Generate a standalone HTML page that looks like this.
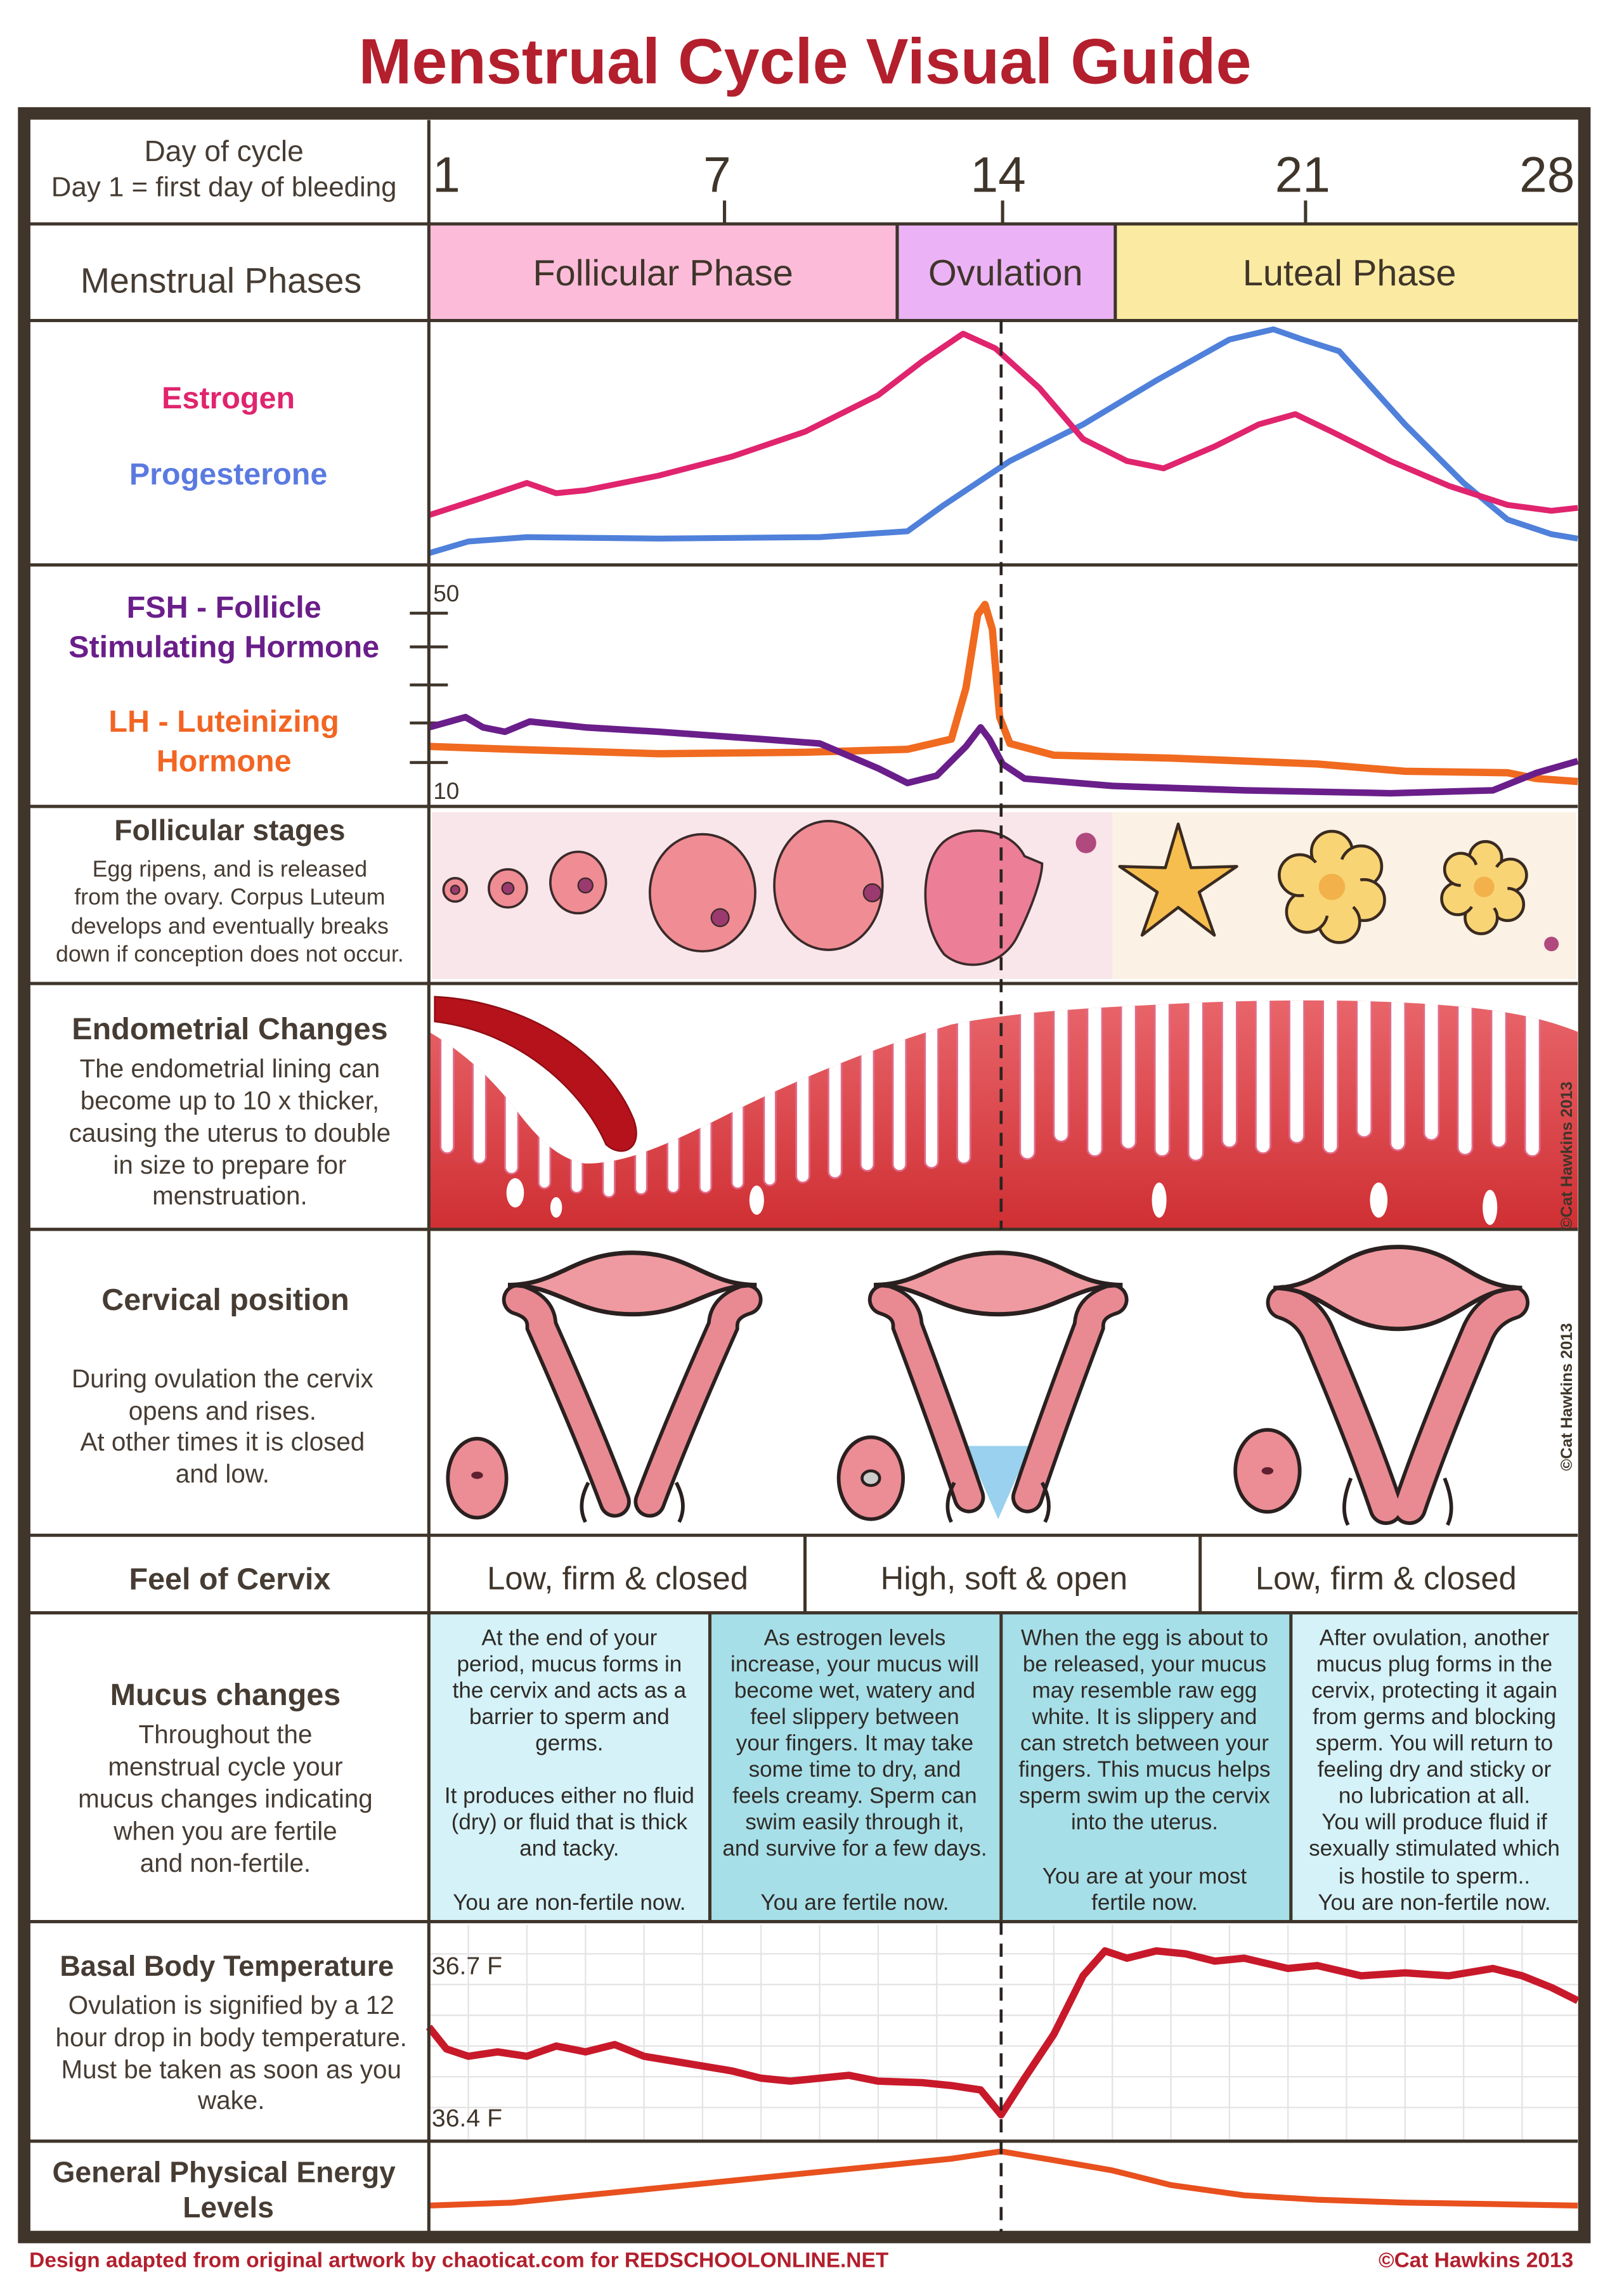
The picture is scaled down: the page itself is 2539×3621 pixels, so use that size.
<!DOCTYPE html>
<html><head><meta charset="utf-8">
<style>
html,body{margin:0;padding:0;background:#fff;}
svg{display:block;}
text{font-family:"Liberation Sans",sans-serif;}
</style></head>
<body>
<svg width="2539" height="3621" viewBox="0 0 1100 1568.8" xmlns="http://www.w3.org/2000/svg">
<defs>
<linearGradient id="endo" x1="0" y1="0" x2="0" y2="1">
<stop offset="0" stop-color="#e8656a"/><stop offset="1" stop-color="#cf2f33"/>
</linearGradient>
<clipPath id="endoClip">
<path d="M293,705 C310,715 330,730 350,755 C365,775 380,792 400,795 C430,795 460,780 500,760 C540,740 590,718 650,700 C700,690 760,688 820,685 C900,682 960,684 1000,688 C1040,692 1060,698 1078,705 L1078,840 L293,840 Z"/>
</clipPath>
</defs>
<rect width="1100" height="1568.8" fill="#fff"/>
<!-- Title -->
<text x="550" y="57" text-anchor="middle" font-size="44" font-weight="bold" fill="#b31f2d" textLength="610" lengthAdjust="spacingAndGlyphs">Menstrual Cycle Visual Guide</text>

<!-- frame -->
<rect x="16.5" y="77.5" width="1066" height="1451" fill="none" stroke="#3f352a" stroke-width="8.5"/>

<!-- phase fills -->
<rect x="293" y="153" width="320" height="66" fill="#fcbcd9"/>
<rect x="613" y="153" width="149" height="66" fill="#ebb3f6"/>
<rect x="762" y="153" width="316" height="66" fill="#fbeba2"/>

<!-- mucus fills -->
<rect x="293" y="1102" width="192" height="211" fill="#d4f2f8"/>
<rect x="485" y="1102" width="199" height="211" fill="#a7dfe8"/>
<rect x="684" y="1102" width="198" height="211" fill="#a7dfe8"/>
<rect x="882" y="1102" width="196" height="211" fill="#d4f2f8"/>

<!-- Follicular band -->
<rect x="295" y="555" width="782" height="114" fill="#f8e6ea"/>
<rect x="760" y="555" width="317" height="114" fill="#fbf1e4"/>

<!-- BBT grid -->
<g stroke="#e4e4e4" stroke-width="1">
<line x1="293" y1="1335" x2="1078" y2="1335"/><line x1="293" y1="1356" x2="1078" y2="1356"/><line x1="293" y1="1377" x2="1078" y2="1377"/><line x1="293" y1="1398" x2="1078" y2="1398"/><line x1="293" y1="1419" x2="1078" y2="1419"/><line x1="293" y1="1440" x2="1078" y2="1440"/>
<line x1="320" y1="1315" x2="320" y2="1462"/><line x1="360" y1="1315" x2="360" y2="1462"/><line x1="400" y1="1315" x2="400" y2="1462"/><line x1="440" y1="1315" x2="440" y2="1462"/><line x1="480" y1="1315" x2="480" y2="1462"/><line x1="520" y1="1315" x2="520" y2="1462"/><line x1="560" y1="1315" x2="560" y2="1462"/><line x1="600" y1="1315" x2="600" y2="1462"/><line x1="640" y1="1315" x2="640" y2="1462"/><line x1="720" y1="1315" x2="720" y2="1462"/><line x1="760" y1="1315" x2="760" y2="1462"/><line x1="800" y1="1315" x2="800" y2="1462"/><line x1="840" y1="1315" x2="840" y2="1462"/><line x1="880" y1="1315" x2="880" y2="1462"/><line x1="920" y1="1315" x2="920" y2="1462"/><line x1="960" y1="1315" x2="960" y2="1462"/><line x1="1000" y1="1315" x2="1000" y2="1462"/><line x1="1040" y1="1315" x2="1040" y2="1462"/>
</g>

<!-- Endometrial -->
<path d="M293,705 C310,715 330,730 350,755 C365,775 380,792 400,795 C430,795 460,780 500,760 C540,740 590,718 650,700 C700,690 760,688 820,685 C900,682 960,684 1000,688 C1040,692 1060,698 1078,705 L1078,840 L293,840 Z" fill="url(#endo)"/>
<g fill="#fff" stroke="#e06b8a" stroke-width="1.2" clip-path="url(#endoClip)">
<rect x="301" y="690" width="9" height="98" rx="4.5"/>
<rect x="323" y="700" width="9" height="95" rx="4.5"/>
<rect x="345" y="720" width="9" height="82" rx="4.5"/>
<rect x="368" y="750" width="8" height="62" rx="4"/>
<rect x="390" y="770" width="8" height="45" rx="4"/>
<rect x="412" y="770" width="8" height="48" rx="4"/>
<rect x="434" y="760" width="8" height="56" rx="4"/>
<rect x="456" y="750" width="8" height="65" rx="4"/>
<rect x="478" y="740" width="8" height="75" rx="4"/>
<rect x="500" y="730" width="8" height="82" rx="4"/>
<rect x="522" y="720" width="8" height="90" rx="4"/>
<rect x="544" y="710" width="9" height="98" rx="4.5"/>
<rect x="566" y="700" width="9" height="105" rx="4.5"/>
<rect x="588" y="690" width="9" height="110" rx="4.5"/>
<rect x="610" y="685" width="9" height="115" rx="4.5"/>
<rect x="632" y="680" width="9" height="118" rx="4.5"/>
<rect x="654" y="675" width="9" height="120" rx="4.5"/>
<rect x="697" y="670" width="10" height="122" rx="5"/>
<rect x="720" y="670" width="10" height="110" rx="5"/>
<rect x="743" y="670" width="10" height="120" rx="5"/>
<rect x="766" y="670" width="10" height="115" rx="5"/>
<rect x="789" y="670" width="10" height="120" rx="5"/>
<rect x="812" y="670" width="10" height="123" rx="5"/>
<rect x="835" y="670" width="10" height="114" rx="5"/>
<rect x="858" y="670" width="10" height="118" rx="5"/>
<rect x="881" y="670" width="10" height="111" rx="5"/>
<rect x="904" y="670" width="10" height="118" rx="5"/>
<rect x="927" y="670" width="10" height="107" rx="5"/>
<rect x="950" y="670" width="10" height="116" rx="5"/>
<rect x="973" y="670" width="10" height="109" rx="5"/>
<rect x="996" y="670" width="10" height="119" rx="5"/>
<rect x="1019" y="670" width="10" height="114" rx="5"/>
<rect x="1042" y="670" width="10" height="120" rx="5"/>
</g>
<g fill="#fff">
<ellipse cx="352" cy="815" rx="6" ry="10"/><ellipse cx="380" cy="825" rx="4" ry="7"/><ellipse cx="517" cy="820" rx="5" ry="10"/><ellipse cx="792" cy="820" rx="5" ry="12"/><ellipse cx="942" cy="820" rx="6" ry="12"/><ellipse cx="1018" cy="825" rx="5" ry="12"/>
</g>
<path d="M297,681 C360,684 415,720 433,765 C440,785 425,792 414,782 C398,745 355,705 297,698 Z" fill="#b5121b" stroke="#8c0c12" stroke-width="1"/>

<!-- Follicles -->
<g stroke="#3a2a2a" stroke-width="1.6" fill="#f08c94">
<circle cx="311" cy="608" r="8"/>
<circle cx="347" cy="607" r="13"/>
<ellipse cx="395" cy="603" rx="19" ry="21"/>
<ellipse cx="480" cy="610" rx="36" ry="40"/>
<ellipse cx="566" cy="605" rx="37" ry="44"/>
<path d="M700,585 C690,565 660,563 645,575 C628,590 628,630 645,652 C660,665 685,660 695,640 C705,620 712,600 712,590 Z" fill="#ec7e98"/>
</g>
<g fill="#9a3a6e" stroke="#3a2a2a" stroke-width="1">
<circle cx="311" cy="608" r="3"/><circle cx="347" cy="607" r="4"/><circle cx="400" cy="605" r="5"/><circle cx="492" cy="627" r="6"/><circle cx="596" cy="610" r="6"/>
</g>
<circle cx="742" cy="576" r="7" fill="#b04a7e"/>
<circle cx="1060" cy="645" r="5" fill="#b04a7e"/>
<polygon points="805,563 813.8,592.9 845,592 819.3,609.6 829.7,639 805,620 780.3,639 790.7,609.6 765,592 796.2,592.9" fill="#f6be4e" stroke="#3a2a20" stroke-width="2" stroke-linejoin="round"/>
<g stroke="#3a2a20" stroke-width="2" fill="#f8d474">
<circle cx="910" cy="582" r="14"/><circle cx="930" cy="592" r="14"/><circle cx="932" cy="615" r="14"/><circle cx="915" cy="630" r="14"/><circle cx="893" cy="623" r="14"/><circle cx="888" cy="598" r="14"/>
<circle cx="1015" cy="586" r="11"/><circle cx="1032" cy="598" r="11"/><circle cx="1030" cy="618" r="11"/><circle cx="1012" cy="627" r="11"/><circle cx="996" cy="614" r="11"/><circle cx="998" cy="594" r="11"/>
</g>
<circle cx="910" cy="606" r="20" fill="#f8d474"/><circle cx="1014" cy="606" r="16" fill="#f8d474"/>
<circle cx="910" cy="606" r="9" fill="#f2b14a"/><circle cx="1014" cy="606" r="7" fill="#f2b14a"/>

<!-- Cervix drawings -->
<g transform="translate(432,878)">
<path d="M-78,10 Q-62,15 -62,28 Q-30,100 -12,148" fill="none" stroke="#2a2020" stroke-width="22" stroke-linecap="round"/>
<path d="M78,10 Q62,15 62,28 Q30,100 12,148" fill="none" stroke="#2a2020" stroke-width="22" stroke-linecap="round"/>
<path d="M-78,10 Q-62,15 -62,28 Q-30,100 -12,148" fill="none" stroke="#e98a92" stroke-width="17" stroke-linecap="round"/>
<path d="M78,10 Q62,15 62,28 Q30,100 12,148" fill="none" stroke="#e98a92" stroke-width="17" stroke-linecap="round"/>
<path d="M-30,135 Q-38,150 -32,162" fill="none" stroke="#2a2020" stroke-width="2.5"/>
<path d="M30,135 Q38,150 32,162" fill="none" stroke="#2a2020" stroke-width="2.5"/>
<path d="M-85,0 C-50,0 -40,-22 0,-22 C40,-22 50,0 85,0 C50,0 40,20 0,20 C-40,20 -50,0 -85,0 Z" fill="#ef9aa0" stroke="#2a2020" stroke-width="3"/>
</g>
<g transform="translate(682,878)">
<path d="M-22,110 L0,160 L22,110 Z" fill="#7fc6ea" opacity="0.8"/>
<path d="M-78,10 Q-62,15 -62,28 Q-35,100 -20,145" fill="none" stroke="#2a2020" stroke-width="22" stroke-linecap="round"/>
<path d="M78,10 Q62,15 62,28 Q35,100 20,145" fill="none" stroke="#2a2020" stroke-width="22" stroke-linecap="round"/>
<path d="M-78,10 Q-62,15 -62,28 Q-35,100 -20,145" fill="none" stroke="#e98a92" stroke-width="17" stroke-linecap="round"/>
<path d="M78,10 Q62,15 62,28 Q35,100 20,145" fill="none" stroke="#e98a92" stroke-width="17" stroke-linecap="round"/>
<path d="M-30,135 Q-38,150 -32,162" fill="none" stroke="#2a2020" stroke-width="2.5"/>
<path d="M30,135 Q38,150 32,162" fill="none" stroke="#2a2020" stroke-width="2.5"/>
<path d="M-85,0 C-50,0 -40,-22 0,-22 C40,-22 50,0 85,0 C50,0 40,20 0,20 C-40,20 -50,0 -85,0 Z" fill="#ef9aa0" stroke="#2a2020" stroke-width="3"/>
</g>
<g transform="translate(955,880)">
<path d="M-78,10 Q-62,15 -55,30 Q-25,100 -8,150" fill="none" stroke="#2a2020" stroke-width="24" stroke-linecap="round"/>
<path d="M78,10 Q62,15 55,30 Q25,100 8,150" fill="none" stroke="#2a2020" stroke-width="24" stroke-linecap="round"/>
<path d="M-78,10 Q-62,15 -55,30 Q-25,100 -8,150" fill="none" stroke="#e98a92" stroke-width="19" stroke-linecap="round"/>
<path d="M78,10 Q62,15 55,30 Q25,100 8,150" fill="none" stroke="#e98a92" stroke-width="19" stroke-linecap="round"/>
<path d="M-32,130 Q-40,150 -34,162" fill="none" stroke="#2a2020" stroke-width="2.5"/>
<path d="M32,130 Q40,150 34,162" fill="none" stroke="#2a2020" stroke-width="2.5"/>
<path d="M-85,0 C-50,0 -40,-28 0,-28 C40,-28 50,0 85,0 C50,0 40,28 0,28 C-40,28 -50,0 -85,0 Z" fill="#ef9aa0" stroke="#2a2020" stroke-width="3"/>
</g>
<g stroke="#2a2020" stroke-width="2.5" fill="#ec8c94">
<ellipse cx="326" cy="1010" rx="20" ry="27"/>
<ellipse cx="595" cy="1010" rx="22" ry="28"/>
<ellipse cx="866" cy="1005" rx="22" ry="28"/>
</g>
<ellipse cx="326" cy="1008" rx="4" ry="2.5" fill="#602030"/>
<ellipse cx="595" cy="1010" rx="6" ry="5" fill="#ccc" stroke="#2a2020" stroke-width="2"/>
<ellipse cx="866" cy="1005" rx="4" ry="2.5" fill="#602030"/>

<!-- Hormone curves -->
<polyline fill="none" stroke="#4f80da" stroke-width="4" stroke-linejoin="round" points="293,378 320,370 360,367 450,368 560,367 620,363 645,345 690,315 740,290 790,260 840,232 870,225 890,232 915,240 960,290 1000,330 1030,355 1060,365 1078,368"/>
<polyline fill="none" stroke="#e0246e" stroke-width="4" stroke-linejoin="round" points="293,352 330,340 360,330 380,337 400,335 450,325 500,312 550,295 600,270 630,247 658,228 680,238 710,265 740,300 770,315 795,320 830,305 860,290 885,283 910,295 950,315 990,332 1030,345 1060,349 1078,347"/>

<!-- FSH/LH -->
<line x1="293" y1="388" x2="293" y2="550" stroke="#3f352a" stroke-width="2"/>
<g stroke="#3f352a" stroke-width="2">
<line x1="280" y1="419" x2="306" y2="419"/><line x1="280" y1="442" x2="306" y2="442"/><line x1="280" y1="468" x2="306" y2="468"/><line x1="280" y1="494" x2="306" y2="494"/><line x1="280" y1="521" x2="306" y2="521"/>
</g>
<text x="296" y="411" font-size="16" fill="#3f352a">50</text>
<text x="296" y="546" font-size="16" fill="#3f352a">10</text>
<polyline fill="none" stroke="#f06a20" stroke-width="5" stroke-linejoin="round" points="293,510 350,512 450,515 550,514 620,512 650,505 660,470 668,420 673,413 678,430 683,490 690,508 720,516 800,518 900,522 960,527 1030,528 1050,532 1078,534"/>
<polyline fill="none" stroke="#6a1e8a" stroke-width="4.5" stroke-linejoin="round" points="293,497 318,490 330,497 345,500 362,493 400,497 450,500 520,505 560,508 600,525 620,535 640,530 660,510 670,497 676,505 685,522 700,532 760,537 850,540 950,542 1020,540 1050,528 1078,520"/>

<!-- BBT and energy curves -->
<polyline fill="none" stroke="#c8192a" stroke-width="5" stroke-linejoin="round" points="293,1385 305,1400 320,1405 340,1402 360,1405 380,1398 400,1402 420,1397 440,1405 470,1410 500,1415 520,1420 540,1422 560,1420 580,1418 600,1422 630,1423 650,1425 670,1428 684,1445 700,1420 720,1390 740,1350 755,1333 770,1338 790,1333 810,1335 830,1340 850,1338 880,1345 900,1343 930,1350 960,1348 990,1350 1020,1345 1040,1350 1060,1358 1078,1367"/>
<polyline fill="none" stroke="#e8501e" stroke-width="4" stroke-linejoin="round" points="293,1507 350,1505 400,1500 450,1495 500,1490 550,1485 600,1480 650,1475 684,1470 720,1476 760,1483 800,1493 850,1500 900,1503 960,1505 1020,1506 1078,1507"/>
<text x="295" y="1349" font-size="17" fill="#3f352a">36.7 F</text>
<text x="295" y="1453" font-size="17" fill="#3f352a">36.4 F</text>

<!-- grid lines -->
<g stroke="#3f352a" stroke-width="2.2">
<line x1="20" y1="153" x2="1078" y2="153"/>
<line x1="20" y1="219" x2="1078" y2="219"/>
<line x1="20" y1="386" x2="1078" y2="386"/>
<line x1="20" y1="551" x2="1078" y2="551"/>
<line x1="20" y1="672" x2="1078" y2="672"/>
<line x1="20" y1="840" x2="1078" y2="840"/>
<line x1="20" y1="1049" x2="1078" y2="1049"/>
<line x1="20" y1="1102" x2="1078" y2="1102"/>
<line x1="20" y1="1313" x2="1078" y2="1313"/>
<line x1="20" y1="1463" x2="1078" y2="1463"/>
<line x1="293" y1="82" x2="293" y2="1525"/>
<line x1="613" y1="153" x2="613" y2="219"/>
<line x1="762" y1="153" x2="762" y2="219"/>
<line x1="550" y1="1049" x2="550" y2="1102"/>
<line x1="820" y1="1049" x2="820" y2="1102"/>
<line x1="485" y1="1102" x2="485" y2="1313"/>
<line x1="684" y1="1102" x2="684" y2="1313"/>
<line x1="882" y1="1102" x2="882" y2="1313"/>
<line x1="495" y1="137" x2="495" y2="153"/>
<line x1="685" y1="137" x2="685" y2="153"/>
<line x1="892" y1="137" x2="892" y2="153"/>
</g>
<line x1="684" y1="219" x2="684" y2="840" stroke="#2a2420" stroke-width="2" stroke-dasharray="9,6"/>
<line x1="684" y1="1313" x2="684" y2="1525" stroke="#2a2420" stroke-width="2" stroke-dasharray="9,6"/>

<!-- Day numbers -->
<g font-size="34" fill="#3f352a" text-anchor="middle">
<text x="305" y="131">1</text><text x="490" y="131">7</text><text x="682" y="131">14</text><text x="890" y="131">21</text><text x="1057" y="131">28</text>
</g>

<!-- Phase labels -->
<g font-size="25" fill="#3f352a" text-anchor="middle">
<text x="453" y="195">Follicular Phase</text>
<text x="687" y="195">Ovulation</text>
<text x="922" y="195">Luteal Phase</text>
</g>

<!-- Feel of cervix -->
<g font-size="22" fill="#3f352a" text-anchor="middle">
<text x="422" y="1086">Low, firm &amp; closed</text>
<text x="686" y="1086">High, soft &amp; open</text>
<text x="947" y="1086">Low, firm &amp; closed</text>
</g>

<!-- Left labels -->
<g fill="#463c33" text-anchor="middle">
<text x="153" y="110" font-size="20">Day of cycle</text>
<text x="153" y="134" font-size="19">Day 1 = first day of bleeding</text>
<text x="151" y="200" font-size="24">Menstrual Phases</text>
<text x="156" y="279" font-size="21" font-weight="bold" fill="#e0246e">Estrogen</text>
<text x="156" y="331" font-size="21" font-weight="bold" fill="#5a7ae0">Progesterone</text>
<text x="153" y="422" font-size="21" font-weight="bold" fill="#6a1e8a">FSH - Follicle</text>
<text x="153" y="449" font-size="21" font-weight="bold" fill="#6a1e8a">Stimulating Hormone</text>
<text x="153" y="500" font-size="21" font-weight="bold" fill="#f26522">LH - Luteinizing</text>
<text x="153" y="527" font-size="21" font-weight="bold" fill="#f26522">Hormone</text>
<text x="157" y="574" font-size="20" font-weight="bold">Follicular stages</text>
<text x="157" y="599" font-size="15.5">Egg ripens, and is released</text>
<text x="157" y="618" font-size="15.5">from the ovary.  Corpus Luteum</text>
<text x="157" y="638" font-size="15.5">develops and eventually breaks</text>
<text x="157" y="657" font-size="15.5">down if conception does not occur.</text>
<text x="157" y="710" font-size="21" font-weight="bold">Endometrial Changes</text>
<text x="157" y="736" font-size="17.5">The endometrial lining can</text>
<text x="157" y="758" font-size="17.5">become up to 10 x thicker,</text>
<text x="157" y="780" font-size="17.5">causing the uterus to double</text>
<text x="157" y="802" font-size="17.5">in size to prepare for</text>
<text x="157" y="823" font-size="17.5">menstruation.</text>
<text x="154" y="895" font-size="21" font-weight="bold">Cervical position</text>
<text x="152" y="948" font-size="17.5">During ovulation the cervix</text>
<text x="152" y="970" font-size="17.5">opens and rises.</text>
<text x="152" y="991" font-size="17.5">At other times it is closed</text>
<text x="152" y="1013" font-size="17.5">and low.</text>
<text x="157" y="1086" font-size="21" font-weight="bold">Feel of Cervix</text>
<text x="154" y="1165" font-size="21" font-weight="bold">Mucus changes</text>
<text x="154" y="1191" font-size="17.5">Throughout the</text>
<text x="154" y="1213" font-size="17.5">menstrual cycle your</text>
<text x="154" y="1235" font-size="17.5">mucus changes indicating</text>
<text x="154" y="1257" font-size="17.5">when you are fertile</text>
<text x="154" y="1279" font-size="17.5">and non-fertile.</text>
<text x="155" y="1350" font-size="19.5" font-weight="bold">Basal Body Temperature</text>
<text x="158" y="1376" font-size="17.5">Ovulation is signified by a 12</text>
<text x="158" y="1398" font-size="17.5">hour drop in body temperature.</text>
<text x="158" y="1420" font-size="17.5">Must be taken as soon as you</text>
<text x="158" y="1441" font-size="17.5">wake.</text>
<text x="153" y="1491" font-size="20" font-weight="bold">General Physical Energy</text>
<text x="156" y="1515" font-size="20" font-weight="bold">Levels</text>
</g>

<!-- Mucus text -->
<g font-size="15.2" fill="#2f2a26" text-anchor="middle">
<text x="389" y="1124">At the end of your</text>
<text x="389" y="1142">period, mucus forms in</text>
<text x="389" y="1160">the cervix and acts as a</text>
<text x="389" y="1178">barrier to sperm and</text>
<text x="389" y="1196">germs.</text>
<text x="389" y="1232">It produces either no fluid</text>
<text x="389" y="1250">(dry) or fluid that is thick</text>
<text x="389" y="1268">and tacky.</text>
<text x="389" y="1305">You are non-fertile now.</text>

<text x="584" y="1124">As estrogen levels</text>
<text x="584" y="1142">increase, your mucus will</text>
<text x="584" y="1160">become wet, watery and</text>
<text x="584" y="1178">feel slippery between</text>
<text x="584" y="1196">your fingers.  It may take</text>
<text x="584" y="1214">some time to dry, and</text>
<text x="584" y="1232">feels creamy. Sperm can</text>
<text x="584" y="1250">swim easily through it,</text>
<text x="584" y="1268">and survive for a few days.</text>
<text x="584" y="1305">You are fertile now.</text>

<text x="782" y="1124">When the egg is about to</text>
<text x="782" y="1142">be released, your mucus</text>
<text x="782" y="1160">may resemble raw egg</text>
<text x="782" y="1178">white.  It is slippery and</text>
<text x="782" y="1196">can stretch between your</text>
<text x="782" y="1214">fingers.   This mucus helps</text>
<text x="782" y="1232">sperm swim up the cervix</text>
<text x="782" y="1250">into the uterus.</text>
<text x="782" y="1287">You are at your most</text>
<text x="782" y="1305">fertile now.</text>

<text x="980" y="1124">After ovulation, another</text>
<text x="980" y="1142">mucus plug forms in the</text>
<text x="980" y="1160">cervix, protecting it again</text>
<text x="980" y="1178">from germs and blocking</text>
<text x="980" y="1196">sperm. You will return to</text>
<text x="980" y="1214">feeling dry and sticky or</text>
<text x="980" y="1232">no lubrication at all.</text>
<text x="980" y="1250">You will produce fluid if</text>
<text x="980" y="1268">sexually stimulated which</text>
<text x="980" y="1287">is hostile to sperm..</text>
<text x="980" y="1305">You are non-fertile now.</text>
</g>

<!-- rotated credits -->
<text transform="translate(1074,840) rotate(-90)" font-size="11" font-weight="bold" fill="#3f352a">©Cat Hawkins 2013</text>
<text transform="translate(1074,1005) rotate(-90)" font-size="11" font-weight="bold" fill="#3f352a">©Cat Hawkins 2013</text>

<!-- Footer -->
<text x="20" y="1549" font-size="14.5" font-weight="bold" fill="#b31f2d">Design adapted from original artwork by chaoticat.com for REDSCHOOLONLINE.NET</text>
<text x="1075" y="1549" font-size="14.5" font-weight="bold" fill="#b31f2d" text-anchor="end">©Cat Hawkins 2013</text>
</svg>
</body></html>
